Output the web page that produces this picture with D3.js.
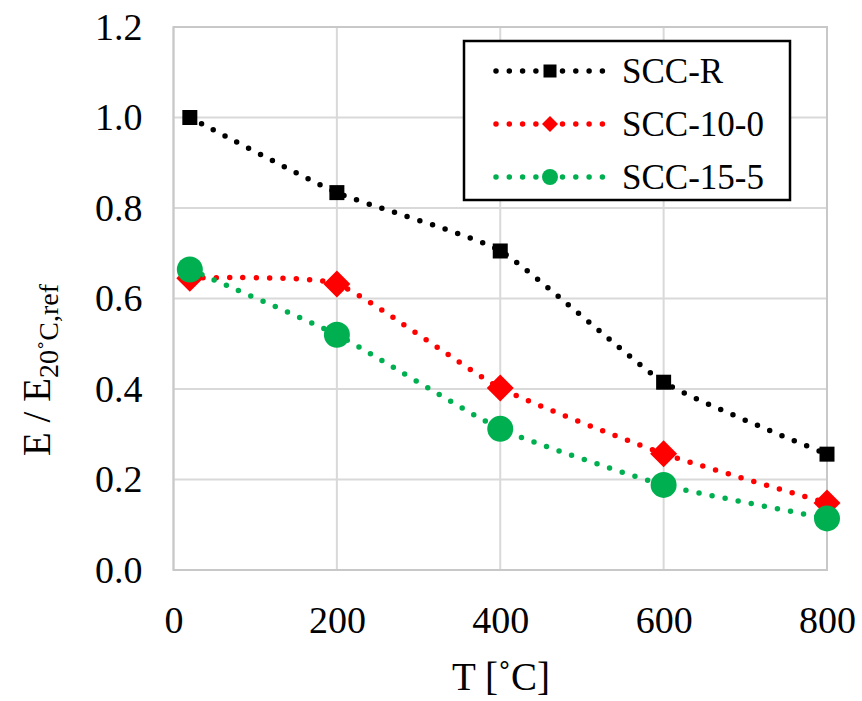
<!DOCTYPE html>
<html><head><meta charset="utf-8">
<script src="https://cdn.jsdelivr.net/npm/d3@7"></script>
<style>body{margin:0;background:#fff}svg{display:block}text{font-family:"Liberation Serif","Times New Roman",serif;fill:#000}</style>
</head><body><svg id="c" width="862" height="701"></svg>
<script>
const temps = [20, 200, 400, 600, 800];
const seriesNames = ["SCC-R", "SCC-10-0", "SCC-15-5"];
const sccR = [1.0, 0.834, 0.705, 0.415, 0.256];
const scc100 = [0.645, 0.632, 0.402, 0.257, 0.148];
const scc155 = [0.664, 0.52, 0.312, 0.188, 0.114];
const xTicks = [0, 200, 400, 600, 800];
const yTicks = [0, 0.2, 0.4, 0.6, 0.8, 1.0, 1.2];

const colors = ["#000000", "#ff0000", "#00b050"];
const shapes = ["square", "diamond", "circle"];
const data = [sccR, scc100, scc155];

const svg = d3.select("#c");
const L = 173.5, R = 827, T = 27, B = 570;
const x = d3.scaleLinear().domain([0, 800]).range([L, R]);
const y = d3.scaleLinear().domain([0, 1.2]).range([B, T]);

// grid
svg.append("g").selectAll("line").data(yTicks).join("line")
  .attr("x1", L).attr("x2", R).attr("y1", d => y(d)).attr("y2", d => y(d))
  .attr("stroke", "#d9d9d9").attr("stroke-width", 2);
svg.append("g").selectAll("line").data(xTicks).join("line")
  .attr("y1", T).attr("y2", B).attr("x1", d => x(d)).attr("x2", d => x(d))
  .attr("stroke", "#d9d9d9").attr("stroke-width", 2);
svg.append("rect").attr("x", L).attr("y", T).attr("width", R - L).attr("height", B - T)
  .attr("fill", "none").attr("stroke", "#c8c8c8").attr("stroke-width", 2);

// axes tick labels via d3 axes
const yAxis = svg.append("g").attr("transform", `translate(${L},0)`)
  .call(d3.axisLeft(y).tickValues(yTicks).tickFormat(d3.format(".1f")).tickSize(0).tickPadding(31));
yAxis.select(".domain").remove();
yAxis.selectAll("text").attr("font-size", 38).attr("font-family", "Liberation Serif").attr("fill", "#000");

const xAxis = svg.append("g").attr("transform", `translate(0,${B})`)
  .call(d3.axisBottom(x).tickValues(xTicks).tickFormat(d3.format("d")).tickSize(0).tickPadding(36));
xAxis.select(".domain").remove();
xAxis.selectAll("text").attr("font-size", 38).attr("font-family", "Liberation Serif").attr("fill", "#000");

// axis titles
svg.append("text").attr("x", 501).attr("y", 690).attr("text-anchor", "middle")
  .attr("font-size", 39).text("T [˚C]");
const yt = svg.append("text").attr("transform", `translate(50,456) rotate(-90)`)
  .attr("text-anchor", "start").attr("font-size", 39);
yt.append("tspan").text("E / E");
yt.append("tspan").attr("font-size", 28).attr("dy", 8).text("20˚C,ref");

// symbols
function drawMarker(g, shape, cx, cy, s, color) {
  if (shape === "square") {
    g.append("rect").attr("x", cx - s / 2).attr("y", cy - s / 2).attr("width", s).attr("height", s).attr("fill", color);
  } else if (shape === "diamond") {
    const h = s / 2;
    g.append("path").attr("d", `M${cx},${cy - h}L${cx + h},${cy}L${cx},${cy + h}L${cx - h},${cy}Z`).attr("fill", color);
  } else {
    g.append("circle").attr("cx", cx).attr("cy", cy).attr("r", s / 2).attr("fill", color);
  }
}

const line = d3.line().x((d, i) => x(temps[i])).y(d => y(d)).curve(d3.curveCardinal.tension(0.5));
const sizes = [15, 27, 26];
data.forEach((vals, k) => {
  svg.append("path").attr("d", line(vals)).attr("fill", "none").attr("stroke", colors[k])
    .attr("stroke-width", 5.5).attr("stroke-linecap", "round").attr("stroke-dasharray", "0 13.3");
});
data.forEach((vals, k) => {
  const g = svg.append("g");
  vals.forEach((v, i) => drawMarker(g, shapes[k], x(temps[i]), y(v), sizes[k], colors[k]));
});

// legend
const lg = svg.append("g");
lg.append("rect").attr("x", 464).attr("y", 41).attr("width", 326).attr("height", 159)
  .attr("fill", "#fff").attr("stroke", "#000").attr("stroke-width", 2.5);
const legSizes = [13, 16, 16];
seriesNames.forEach((n, k) => {
  const cy = 71 + k * 53;
  lg.append("line").attr("x1", 496).attr("x2", 604).attr("y1", cy).attr("y2", cy)
    .attr("stroke", colors[k]).attr("stroke-width", 5.5).attr("stroke-linecap", "round").attr("stroke-dasharray", "0 13.3");
  drawMarker(lg, shapes[k], 550, cy, legSizes[k], colors[k]);
  lg.append("text").attr("x", 622).attr("y", cy + 12).attr("font-size", 35).text(n);
});
</script></body></html>
